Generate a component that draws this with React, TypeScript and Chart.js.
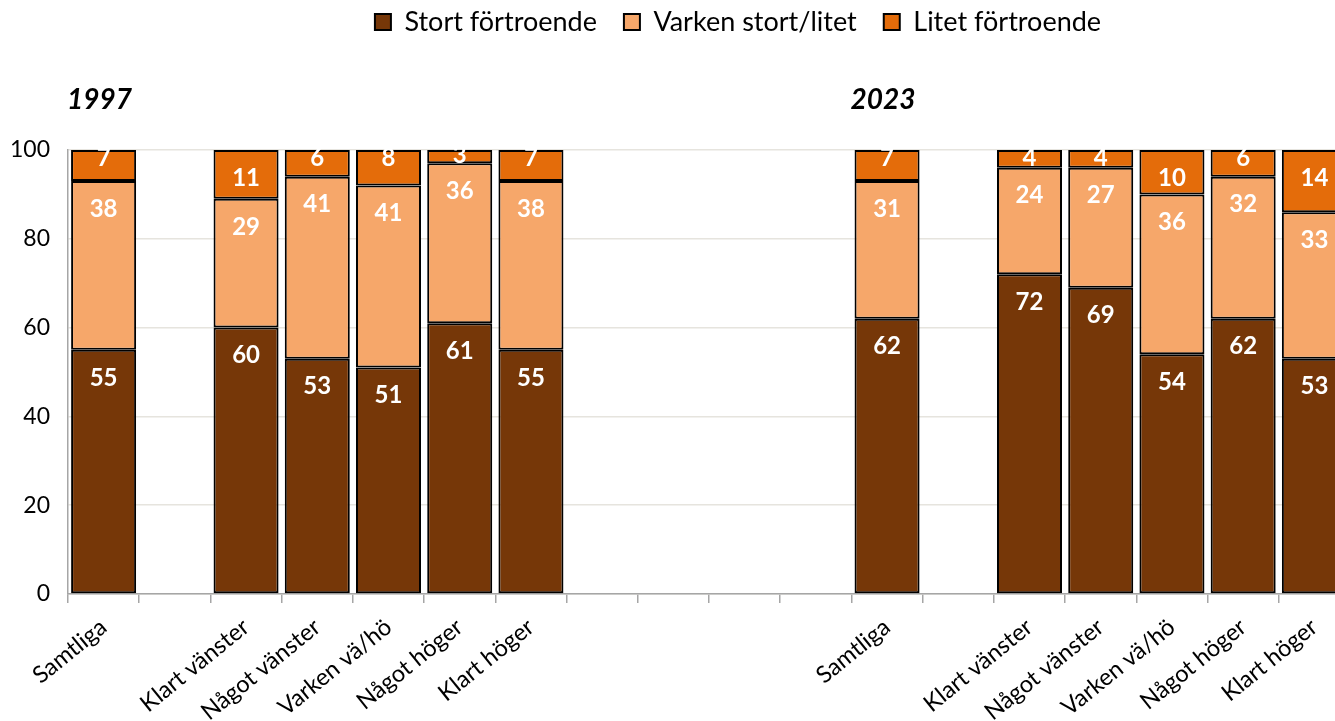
import { useEffect, useRef } from 'react';
import { Chart, registerables } from 'chart.js';
Chart.register(...registerables);

const FONT = 'Lato, "Open Sans", sans-serif';

const categories = ['Samtliga', '', 'Klart vänster', 'Något vänster', 'Varken vä/hö', 'Något höger', 'Klart höger', '', '', '', '', 'Samtliga', '', 'Klart vänster', 'Något vänster', 'Varken vä/hö', 'Något höger', 'Klart höger'];
const stort = [55, null, 60, 53, 51, 61, 55, null, null, null, null, 62, null, 72, 69, 54, 62, 53];
const varken = [38, null, 29, 41, 41, 36, 38, null, null, null, null, 31, null, 24, 27, 36, 32, 33];
const litet = [7, null, 11, 6, 8, 3, 7, null, null, null, null, 7, null, 4, 4, 10, 6, 14];
const seriesNames = ['Stort förtroende', 'Varken stort/litet', 'Litet förtroende'];
const seriesColors = ['#763708', '#F6A76A', '#E46C0A'];
const yearTitles = ['1997', '2023'];
const yearTitleIndex = [0, 11];
const yMin = 0;
const yMax = 100;
const yStep = 20;

const labelPlugin = {
  id: 'segLabels',
  afterDatasetsDraw(chart: any) {
    const ctx = chart.ctx;
    ctx.save();
    ctx.font = `bold 24px ${FONT}`;
    ctx.fillStyle = '#ffffff';
    ctx.textAlign = 'center';
    ctx.textBaseline = 'middle';
    chart.data.datasets.forEach((ds: any, di: number) => {
      const meta = chart.getDatasetMeta(di);
      meta.data.forEach((el: any, i: number) => {
        const v = ds.data[i];
        if (v == null) return;
        const { x, y, base } = el.getProps(['x', 'y', 'base'], true);
        const top = Math.min(y, base);
        const h = Math.abs(base - y);
        const off = h > 40 ? 28 : Math.max(5, Math.min(8, h / 2 - 1));
        ctx.fillText(String(v), x, top + off);
      });
    });
    ctx.restore();
  },
};

const yearPlugin = {
  id: 'yearTitles',
  afterDraw(chart: any) {
    const ctx = chart.ctx;
    const meta = chart.getDatasetMeta(0);
    ctx.save();
    ctx.font = `italic bold 28px ${FONT}`;
    ctx.fillStyle = '#000000';
    ctx.textAlign = 'left';
    ctx.textBaseline = 'middle';
    yearTitles.forEach((t, k) => {
      const el = meta.data[yearTitleIndex[k]];
      if (!el) return;
      const { x, width } = el.getProps(['x', 'width'], true);
      ctx.fillText(t, x - width / 2 - 4, chart.chartArea.top - 50);
    });
    ctx.restore();
  },
};

export default function App() {
  const ref = useRef<HTMLCanvasElement | null>(null);
  useEffect(() => {
    document.body.style.margin = '0';
    document.body.style.overflow = 'hidden';
    const canvas = ref.current;
    if (!canvas) return;
    const seriesData = [stort, varken, litet];
    const chart = new Chart(canvas, {
      type: 'bar',
      data: {
        labels: categories,
        datasets: seriesNames.map((name, i) => ({
          label: name,
          data: seriesData[i],
          backgroundColor: seriesColors[i],
          borderColor: '#000000',
          borderWidth: 2,
          borderSkipped: false,
          stack: 's',
        })),
      },
      options: {
        responsive: false,
        animation: false,
        layout: { padding: { top: -18.5, left: 0, right: 0, bottom: 0 } },
        datasets: { bar: { categoryPercentage: 1, barPercentage: 0.913 } },
        plugins: {
          legend: {
            position: 'top',
            labels: {
              boxWidth: 16,
              boxHeight: 16,
              padding: 27,
              color: '#000000',
              font: { size: 27, family: FONT },
            },
          },
          tooltip: { enabled: false },
        },
        scales: {
          x: {
            stacked: true,
            grid: { offset: true, drawOnChartArea: false, drawTicks: true, tickLength: 9, color: '#A6A6A6', lineWidth: 1.5 },
            border: { color: '#A6A6A6', width: 1.5 },
            ticks: { autoSkip: false, maxRotation: 39, minRotation: 39, color: '#000000', font: { size: 23.5, family: FONT }, padding: 10 },
            afterFit: (s: any) => { s.height = 127; },
          },
          xTop: {
            type: 'category',
            position: 'top',
            display: true,
            grid: { display: false },
            border: { display: false },
            ticks: { display: false },
            afterFit: (s: any) => { s.height = 104.5; },
          },
          y: {
            stacked: true,
            min: yMin,
            max: yMax,
            ticks: { stepSize: yStep, color: '#000000', font: { size: 23, family: FONT }, padding: 18 },
            grid: { color: '#E6E4DE', lineWidth: 1.5, drawTicks: false },
            border: { color: '#A6A6A6', width: 1.5 },
            afterFit: (s: any) => { s.width = 68; },
          },
          y2: {
            position: 'right',
            display: true,
            grid: { display: false },
            border: { display: false },
            ticks: { display: false },
            afterFit: (s: any) => { s.width = 126; },
          },
        },
      } as any,
      plugins: [labelPlugin, yearPlugin],
    });
    return () => chart.destroy();
  }, []);
  return (
    <div style={{ width: 1335, height: 721, overflow: 'hidden', background: '#ffffff' }}>
      <canvas ref={ref} width={1476} height={721} style={{ display: 'block', width: 1476, height: 721 }} />
    </div>
  );
}
